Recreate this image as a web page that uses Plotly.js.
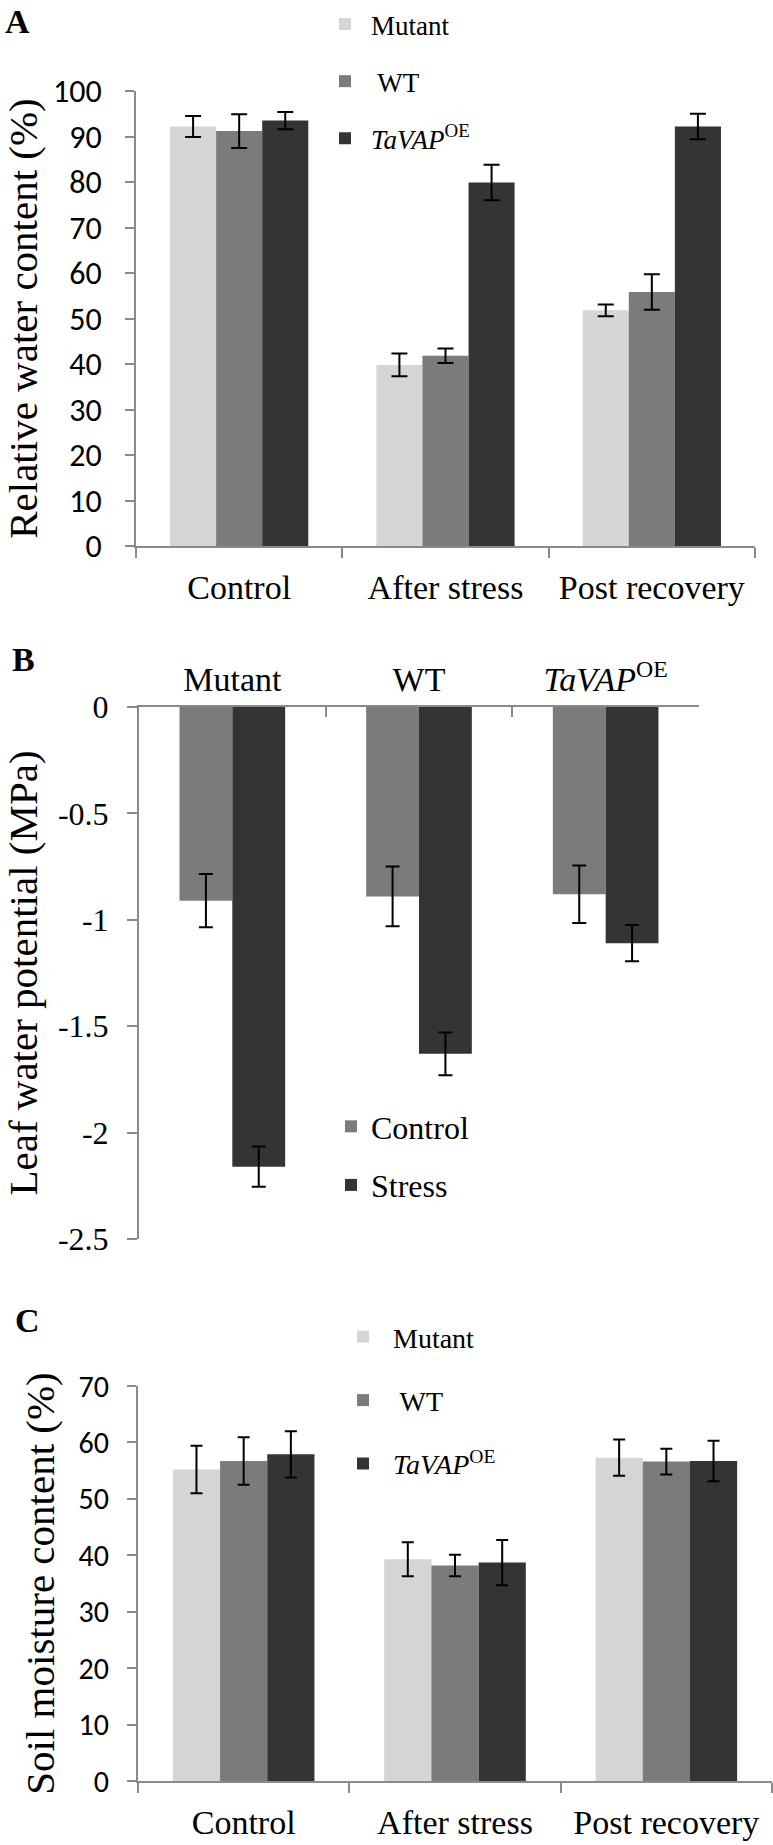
<!DOCTYPE html>
<html>
<head>
<meta charset="utf-8">
<script src="https://cdn.plot.ly/plotly-3.0.1.min.js"></script>
<style>
  body { margin: 0; background: #fff; }
  #chart { width: 773px; height: 1845px; }
</style>
</head>
<body>
<div id="chart"></div>
<script>
// Panel A - relative water content (%)
const stages = ['Control', 'After stress', 'Post recovery'];
const rwcMutant = [92.2, 39.8, 51.8];
const rwcMutantErr = [2.3, 2.5, 1.3];
const rwcWT = [91.2, 41.8, 55.8];
const rwcWTErr = [3.7, 1.6, 3.9];
const rwcOE = [93.5, 79.9, 92.2];
const rwcOEErr = [1.9, 3.9, 2.8];

// Panel B - leaf water potential (MPa)
const genotypes = ['Mutant', 'WT', '<i>TaVAP</i><sup>OE</sup>'];
const lwpControl = [-0.91, -0.89, -0.88];
const lwpControlErr = [0.125, 0.14, 0.135];
const lwpStress = [-2.16, -1.63, -1.11];
const lwpStressErr = [0.095, 0.1, 0.085];
const lwpTickVals = [0, -0.5, -1, -1.5, -2, -2.5];
const lwpTickText = ['0', '-0.5', '-1', '-1.5', '-2', '-2.5'];

// Panel C - soil moisture content (%)
const smMutant = [55.2, 39.3, 57.3];
const smMutantErr = [4.2, 3.0, 3.2];
const smWT = [56.7, 38.2, 56.6];
const smWTErr = [4.2, 1.9, 2.3];
const smOE = [57.9, 38.7, 56.7];
const smOEErr = [4.1, 4.0, 3.6];

const seriesNames = ['Mutant', ' WT', '<i>TaVAP</i><sup>OE</sup>'];

const W = 773, H = 1845;
const serif = 'Liberation Serif, Times New Roman, serif';
const sans = 'Carlito, Lato, sans-serif';
const axisGrey = '#8a8a8a';
const cLight = '#d5d5d5', cMid = '#7b7b7b', cDark = '#343434';

function px(x) { return x / W; }
function py(y) { return 1 - y / H; }

function errBar(arr, w) {
    return {type: 'data', array: arr, visible: true, color: '#000', thickness: 2, width: w};
}

function bar(x, y, err, name, color, xa, ya, leg, grp, w) {
    return {
        type: 'bar', x: x, y: y, name: name,
        marker: {color: color, line: {color: color, width: 0}},
        error_y: errBar(err, w),
        xaxis: xa, yaxis: ya, legend: leg, legendgroup: grp,
        hoverinfo: 'skip'
    };
}

let traces = [
    bar(stages, rwcMutant, rwcMutantErr, seriesNames[0], cLight, 'x', 'y', 'legend', 'a1', 8),
    bar(stages, rwcWT, rwcWTErr, seriesNames[1], cMid, 'x', 'y', 'legend', 'a2', 8),
    bar(stages, rwcOE, rwcOEErr, seriesNames[2], cDark, 'x', 'y', 'legend', 'a3', 8),
    bar(genotypes, lwpControl, lwpControlErr, 'Control', cMid, 'x2', 'y2', 'legend2', 'b1', 7),
    bar(genotypes, lwpStress, lwpStressErr, 'Stress', cDark, 'x2', 'y2', 'legend2', 'b2', 7),
    bar(stages, smMutant, smMutantErr, seriesNames[0], cLight, 'x3', 'y3', 'legend3', 'c1', 6),
    bar(stages, smWT, smWTErr, seriesNames[1], cMid, 'x3', 'y3', 'legend3', 'c2', 6),
    bar(stages, smOE, smOEErr, seriesNames[2], cDark, 'x3', 'y3', 'legend3', 'c3', 6)
];
// panel B bars are wider than A and C
traces[3].width = 0.283; traces[3].offset = -0.283;
traces[4].width = 0.283; traces[4].offset = 0;

const catAxis = {
    type: 'category', showline: true, linecolor: axisGrey, linewidth: 2,
    ticks: 'outside', tickson: 'boundaries', ticklen: 10, tickwidth: 2, tickcolor: axisGrey,
    tickfont: {family: serif, size: 34, color: '#000'},
    showgrid: false, zeroline: false, fixedrange: true
};
const valAxis = {
    showline: true, linecolor: axisGrey, linewidth: 2,
    ticks: 'outside', ticklen: 9, tickwidth: 2, tickcolor: axisGrey,
    tickfont: {family: sans, size: 32, color: '#000'},
    showgrid: false, zeroline: false, fixedrange: true
};

function legendBox(x, y, size, gap, iw) {
    return {
        x: x, y: y, xanchor: 'left', yanchor: 'top', xref: 'paper', yref: 'paper',
        bgcolor: 'rgba(0,0,0,0)', font: {family: serif, size: size, color: '#000'},
        traceorder: 'grouped', tracegroupgap: gap, itemwidth: iw, itemclick: false
    };
}

function panelLabel(txt, x, y) {
    return {
        text: '<b>' + txt + '</b>', xref: 'paper', yref: 'paper', x: px(x), y: py(y),
        xanchor: 'left', yanchor: 'middle', showarrow: false,
        font: {family: serif, size: 34, color: '#000'}
    };
}

const layout = {
    width: W, height: H,
    margin: {l: 0, r: 0, t: 0, b: 0},
    paper_bgcolor: '#fff', plot_bgcolor: '#fff',
    barmode: 'group', bargap: 0.33, bargroupgap: 0,
    xaxis: Object.assign({}, catAxis, {domain: [px(136), px(755)], anchor: 'y', ticklabelstandoff: 10}),
    yaxis: Object.assign({}, valAxis, {
        domain: [py(546), py(91)], anchor: 'x', range: [0, 100], dtick: 10,
        ticklabelstandoff: 17,
        title: {text: 'Relative water content (%)', font: {family: serif, size: 41, color: '#000'}, standoff: 13}
    }),
    xaxis2: Object.assign({}, catAxis, {
        domain: [px(139), px(699)], anchor: 'y2', side: 'top', ticks: 'inside', ticklabelstandoff: 0
    }),
    yaxis2: Object.assign({}, valAxis, {
        domain: [py(1239), py(707)], anchor: 'x2', range: [-2.5, 0],
        tickvals: lwpTickVals, ticktext: lwpTickText, ticklen: 10,
        tickfont: {family: serif, size: 32, color: '#000'}, ticklabelstandoff: 12,
        title: {text: 'Leaf water potential (MPa)', font: {family: serif, size: 41, color: '#000'}, standoff: 16}
    }),
    xaxis3: Object.assign({}, catAxis, {domain: [px(138), px(772)], anchor: 'y3', ticklabelstandoff: 10}),
    yaxis3: Object.assign({}, valAxis, {
        domain: [py(1781), py(1386)], anchor: 'x3', range: [0, 70], dtick: 10,
        tickfont: {family: sans, size: 30, color: '#000'}, ticklabelstandoff: 12,
        title: {text: 'Soil moisture content (%)', font: {family: serif, size: 41, color: '#000'}, standoff: 11}
    }),
    legend: legendBox(px(319), py(0), 27, 19, 42),
    legend2: legendBox(px(331), py(1099), 32, 14, 30),
    legend3: legendBox(px(333), py(1312), 28, 24, 50),
    annotations: [panelLabel('A', 3, 22), panelLabel('B', 10, 660), panelLabel('C', 13, 1320)],
    showlegend: true
};

Plotly.newPlot('chart', traces, layout, {displayModeBar: false, staticPlot: true});
</script>
</body>
</html>
